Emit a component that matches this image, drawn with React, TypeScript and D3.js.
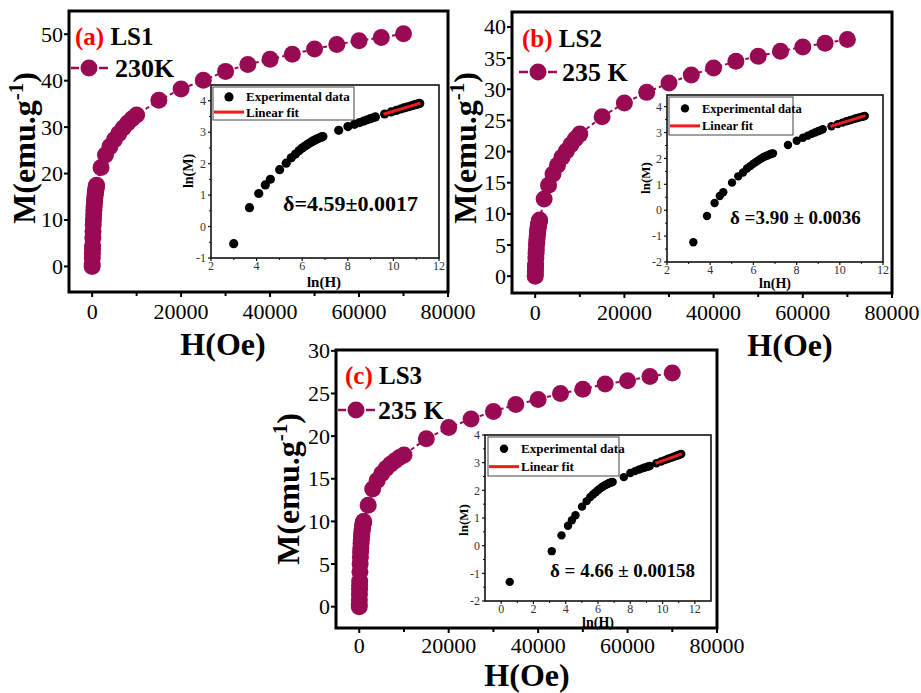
import React from "react";
import * as d3 from "d3";

// M(H) isotherms. H in Oe, M in emu/g
const H_LS1 = [0, 20, 40, 60, 80, 100, 150, 200, 250, 300, 350, 400, 450, 500, 550, 600, 650, 700, 750, 800, 850, 900, 950, 1000,
  2000, 3000, 4000, 5000, 6000, 7000, 8000, 9000, 10000,
  15000, 20000, 25000, 30000, 35000, 40000, 45000, 50000, 55000, 60000, 65000, 70000];
const M_LS1 = [0, 0.58, 1.82, 2.86, 3.75, 4.5, 6.1, 7.5, 8.9, 10.0, 11.1, 12.1, 12.8, 13.5, 14.1, 14.7, 15.2, 15.6, 16.0, 16.4, 16.7, 17.0, 17.3, 17.5,
  21.3, 24.0, 25.8, 27.3, 28.6, 29.8, 30.9, 31.8, 32.6,
  35.8, 38.2, 40.1, 42.0, 43.5, 44.6, 45.7, 46.8, 47.8, 48.6, 49.3, 50.1];

const H_LS2 = [0, 25, 47, 67, 85, 100, 150, 200, 250, 300, 350, 400, 450, 500, 550, 600, 650, 700, 750, 800, 850, 900, 950, 1000,
  2000, 3000, 4000, 5000, 6000, 7000, 8000, 9000, 10000,
  15000, 20000, 25000, 30000, 35000, 40000, 45000, 50000, 55000, 60000, 65000, 70000];
const M_LS2 = [0, 0.29, 0.8, 1.32, 1.73, 2.0, 2.9, 3.7, 4.3, 5.0, 5.5, 6.0, 6.4, 6.8, 7.2, 7.5, 7.8, 8.0, 8.2, 8.4, 8.6, 8.75, 8.9, 9.0,
  12.4, 14.6, 16.4, 17.8, 19.1, 20.1, 21.1, 22.0, 22.8,
  25.6, 27.8, 29.5, 31.0, 32.3, 33.4, 34.5, 35.3, 36.1, 36.8, 37.4, 38.0];

const H_LS3 = [0, 1.7, 23, 42, 63, 80, 100, 150, 200, 250, 300, 350, 400, 450, 500, 550, 600, 650, 700, 750, 800, 850, 900, 950, 1000,
  2000, 3000, 4000, 5000, 6000, 7000, 8000, 9000, 10000,
  15000, 20000, 25000, 30000, 35000, 40000, 45000, 50000, 55000, 60000, 65000, 70000];
const M_LS3 = [0, 0.27, 0.82, 1.45, 2.05, 2.5, 3.0, 4.1, 5.0, 5.8, 6.4, 6.9, 7.4, 7.8, 8.2, 8.5, 8.8, 9.0, 9.2, 9.4, 9.6, 9.75, 9.85, 9.95, 10.0,
  11.9, 13.8, 14.8, 15.6, 16.2, 16.7, 17.1, 17.5, 17.8,
  19.7, 21.0, 22.0, 22.9, 23.7, 24.3, 25.0, 25.5, 26.1, 26.5, 27.0, 27.4];

// linear fit is done on the high field points only
const FIT_FROM_H = 15000;

const X_TICKS = [0, 20000, 40000, 60000, 80000];
const X_MINOR = [10000, 30000, 50000, 70000];
const Y_TICKS_LS1 = [0, 10, 20, 30, 40, 50];
const Y_TICKS_LS2 = [0, 5, 10, 15, 20, 25, 30, 35, 40];
const Y_TICKS_LS3 = [0, 5, 10, 15, 20, 25, 30];

const INSET_X_TICKS_AB = [2, 4, 6, 8, 10, 12];
const INSET_X_TICKS_C = [0, 2, 4, 6, 8, 10, 12];
const INSET_Y_TICKS_A = [-1, 0, 1, 2, 3, 4];
const INSET_Y_TICKS_BC = [-2, -1, 0, 1, 2, 3, 4];

const MAIN_COLOR = "#990a55";
const FIT_COLOR = "#ee1c1c";
const FONT = "Liberation Serif, Times New Roman, serif";

type Box = { left: number; top: number; right: number; bottom: number };

type InsetProps = {
  box: Box;
  H: number[];
  M: number[];
  xDomain: [number, number];
  yDomain: [number, number];
  xTicks: number[];
  yTicks: number[];
  r: number;
  legend: Box;
  legendFont: number;
  delta: string;
  deltaX: number;
  deltaY: number;
  deltaSize: number;
  xLabel: [number, number];
  yLabel: [number, number];
  labelSize: number;
};

function Inset(p: InsetProps) {
  const { box } = p;
  const x = d3.scaleLinear().domain(p.xDomain).range([box.left, box.right]);
  const y = d3.scaleLinear().domain(p.yDomain).range([box.bottom, box.top]);

  const pts = p.H.map((h, i) => [h, p.M[i]]).filter((d) => d[0] > 0 && d[1] > 0)
    .map((d) => [Math.log(d[0]), Math.log(d[1])]);
  const fitPts = pts.filter((d) => d[0] >= Math.log(FIT_FROM_H) - 1e-6);
  const mx = d3.mean(fitPts, (d) => d[0]) as number;
  const my = d3.mean(fitPts, (d) => d[1]) as number;
  const slope = d3.sum(fitPts, (d) => (d[0] - mx) * (d[1] - my)) / d3.sum(fitPts, (d) => (d[0] - mx) ** 2);
  const x0 = (d3.min(fitPts, (d) => d[0]) as number) - 0.05;
  const x1 = (d3.max(fitPts, (d) => d[0]) as number) + 0.03;
  const fitLine = d3.line<number>().x((v) => x(v)).y((v) => y(my + slope * (v - mx)))([x0, x1]);

  const xMinor = p.xTicks.slice(0, -1).map((t) => t + 1).filter((t) => t < p.xDomain[1]);
  const yMinor = p.yTicks.slice(0, -1).map((t) => t + 0.5);
  const lg = p.legend;
  const row1 = lg.top + (lg.bottom - lg.top) * 0.3;
  const row2 = lg.top + (lg.bottom - lg.top) * 0.76;

  return (
    <g fontFamily={FONT}>
      <rect x={box.left} y={box.top} width={box.right - box.left} height={box.bottom - box.top}
        fill="white" stroke="#111" strokeWidth={1.6} />
      {p.xTicks.map((t) => (
        <g key={"xt" + t}>
          <line x1={x(t)} x2={x(t)} y1={box.bottom} y2={box.bottom + 3} stroke="#111" strokeWidth={1.2} />
          <text x={x(t)} y={box.bottom + 12} fontSize={12} textAnchor="middle" fill="#333">{t}</text>
        </g>
      ))}
      {xMinor.map((t) => (
        <line key={"xm" + t} x1={x(t)} x2={x(t)} y1={box.bottom} y2={box.bottom + 2} stroke="#111" strokeWidth={1} />
      ))}
      {p.yTicks.map((t) => (
        <g key={"yt" + t}>
          <line x1={box.left} x2={box.left - 3} y1={y(t)} y2={y(t)} stroke="#111" strokeWidth={1.2} />
          <text x={box.left - 5} y={y(t)} dy="0.35em" fontSize={12} textAnchor="end" fill="#333">{t}</text>
        </g>
      ))}
      {yMinor.map((t) => (
        <line key={"ym" + t} x1={box.left} x2={box.left - 2} y1={y(t)} y2={y(t)} stroke="#111" strokeWidth={1} />
      ))}
      <text x={p.xLabel[0]} y={p.xLabel[1]} textAnchor="middle" fontSize={p.labelSize} fontWeight="bold">ln(H)</text>
      <text transform={`translate(${p.yLabel[0]},${p.yLabel[1]}) rotate(-90)`} textAnchor="middle"
        fontSize={p.labelSize - 1} fontWeight="bold">ln(M)</text>

      {pts.map((d, i) => (
        <circle key={i} cx={x(d[0])} cy={y(d[1])} r={p.r} fill="black" />
      ))}
      <path d={fitLine || ""} stroke={FIT_COLOR} strokeWidth={3} fill="none" />

      <rect x={lg.left} y={lg.top} width={lg.right - lg.left} height={lg.bottom - lg.top}
        fill="white" stroke="#444" strokeWidth={1} />
      <circle cx={lg.left + 16} cy={row1} r={p.r} fill="black" />
      <text x={lg.left + 33} y={row1} dy="0.35em" fontSize={p.legendFont} fontWeight="bold">Experimental data</text>
      <line x1={lg.left + 1} x2={lg.left + 31} y1={row2} y2={row2} stroke={FIT_COLOR} strokeWidth={3} />
      <text x={lg.left + 33} y={row2} dy="0.35em" fontSize={p.legendFont} fontWeight="bold">Linear fit</text>

      <text x={p.deltaX} y={p.deltaY} fontSize={p.deltaSize} fontWeight="bold">{p.delta}</text>
    </g>
  );
}

type PanelProps = {
  box: Box;
  H: number[];
  M: number[];
  yDomain: [number, number];
  yTicks: number[];
  tickDy: number;
  tag: string;
  sample: string;
  temp: string;
  titleX: number;
  titleY: number;
  legY: number;
  legX: [number, number, number];
  tempX: number;
  yLabelPos: [number, number];
  xLabelPos: [number, number];
  inset: InsetProps;
};

function Panel(p: PanelProps) {
  const { box } = p;
  const x = d3.scaleLinear().domain([-5200, 80000]).range([box.left, box.right]);
  const y = d3.scaleLinear().domain(p.yDomain).range([box.bottom, box.top]);
  const pts = p.H.map((h, i) => [h, p.M[i]] as [number, number]);
  const path = d3.line<[number, number]>().x((d) => x(d[0])).y((d) => y(d[1]))(pts);

  return (
    <g fontFamily={FONT}>
      {X_TICKS.map((t) => (
        <g key={"x" + t}>
          <line x1={x(t)} x2={x(t)} y1={box.bottom} y2={box.bottom + 5} stroke="black" strokeWidth={2} />
          <text x={x(t)} y={box.bottom + p.tickDy} fontSize={22} textAnchor="middle">{t}</text>
        </g>
      ))}
      {X_MINOR.map((t) => (
        <line key={"xm" + t} x1={x(t)} x2={x(t)} y1={box.bottom} y2={box.bottom + 4} stroke="black" strokeWidth={2} />
      ))}
      {p.yTicks.map((t) => (
        <g key={"y" + t}>
          <line x1={box.left} x2={box.left - 5} y1={y(t)} y2={y(t)} stroke="black" strokeWidth={2} />
          <text x={box.left - 6} y={y(t)} dy="0.34em" fontSize={22} textAnchor="end">{t}</text>
        </g>
      ))}

      <path d={path || ""} fill="none" stroke={MAIN_COLOR} strokeWidth={2} strokeDasharray="4,3" />
      {pts.map((d, i) => (
        <circle key={i} cx={x(d[0])} cy={y(d[1])} r={8.5} fill={MAIN_COLOR} />
      ))}

      <Inset {...p.inset} />

      <rect x={box.left} y={box.top} width={box.right - box.left} height={box.bottom - box.top}
        fill="none" stroke="black" strokeWidth={3} />

      <text x={p.titleX} y={p.titleY} fontSize={25} fontWeight="bold">
        <tspan fill="#ff0000">{p.tag}</tspan>
        <tspan fill="black">{" " + p.sample}</tspan>
      </text>
      <line x1={p.legX[1] + 10} x2={p.legX[2]} y1={p.legY} y2={p.legY} stroke={MAIN_COLOR} strokeWidth={2.5} />
      <line x1={p.legX[0]} x2={p.legX[1] - 10} y1={p.legY} y2={p.legY} stroke={MAIN_COLOR} strokeWidth={2.5} />
      <circle cx={p.legX[1]} cy={p.legY} r={8.5} fill={MAIN_COLOR} />
      <text x={p.tempX} y={p.legY} dy="0.36em" fontSize={26} fontWeight="bold">{p.temp}</text>

      <text transform={`translate(${p.yLabelPos[0]},${p.yLabelPos[1]}) rotate(-90)`} textAnchor="middle"
        fontSize={32} fontWeight="bold">
        M(emu.g<tspan fontSize={21} dy={-12}>-1</tspan><tspan dy={12}>)</tspan>
      </text>
      <text x={p.xLabelPos[0]} y={p.xLabelPos[1]} textAnchor="middle" fontSize={32} fontWeight="bold">H(Oe)</text>
    </g>
  );
}

export default function App() {
  const panels: PanelProps[] = [
    {
      box: { left: 69, top: 11, right: 448, bottom: 292 },
      H: H_LS1, M: M_LS1, yDomain: [-5.5, 55], yTicks: Y_TICKS_LS1, tickDy: 27,
      tag: "(a)", sample: "LS1", temp: "230K",
      titleX: 75, titleY: 45, legY: 68, legX: [71, 89, 108], tempX: 115,
      yLabelPos: [35, 148], xLabelPos: [223, 355],
      inset: {
        box: { left: 211, top: 85, right: 439, bottom: 258 },
        H: H_LS1, M: M_LS1, xDomain: [2, 12], yDomain: [-1, 4.5],
        xTicks: INSET_X_TICKS_AB, yTicks: INSET_Y_TICKS_A, r: 4.6,
        legend: { left: 213, top: 87, right: 354, bottom: 120 }, legendFont: 13,
        delta: "δ=4.59±0.0017", deltaX: 283, deltaY: 211, deltaSize: 22,
        xLabel: [324, 287], yLabel: [193, 171], labelSize: 15,
      },
    },
    {
      box: { left: 512, top: 12, right: 892, bottom: 293 },
      H: H_LS2, M: M_LS2, yDomain: [-2.7, 42.4], yTicks: Y_TICKS_LS2, tickDy: 27,
      tag: "(b)", sample: "LS2", temp: "235 K",
      titleX: 522, titleY: 47, legY: 72, legX: [519, 538, 557], tempX: 562,
      yLabelPos: [476, 148], xLabelPos: [790, 356],
      inset: {
        box: { left: 667, top: 95, right: 883, bottom: 262 },
        H: H_LS2, M: M_LS2, xDomain: [2, 12], yDomain: [-2, 4.45],
        xTicks: INSET_X_TICKS_AB, yTicks: INSET_Y_TICKS_BC, r: 4.2,
        legend: { left: 669, top: 97, right: 793, bottom: 135 }, legendFont: 12.5,
        delta: "δ =3.90 ± 0.0036", deltaX: 730, deltaY: 224, deltaSize: 19,
        xLabel: [775, 288], yLabel: [650, 178], labelSize: 14,
      },
    },
    {
      box: { left: 336, top: 350, right: 717, bottom: 628 },
      H: H_LS3, M: M_LS3, yDomain: [-2.5, 30.1], yTicks: Y_TICKS_LS3, tickDy: 25,
      tag: "(c)", sample: "LS3", temp: "235 K",
      titleX: 345, titleY: 384, legY: 410, legX: [338, 356, 375], tempX: 378,
      yLabelPos: [299, 489], xLabelPos: [527, 686],
      inset: {
        box: { left: 485, top: 435, right: 711, bottom: 601 },
        H: H_LS3, M: M_LS3, xDomain: [-1, 13], yDomain: [-2, 4],
        xTicks: INSET_X_TICKS_C, yTicks: INSET_Y_TICKS_BC, r: 4.2,
        legend: { left: 488, top: 437, right: 619, bottom: 476 }, legendFont: 13,
        delta: "δ = 4.66 ± 0.00158", deltaX: 550, deltaY: 577, deltaSize: 19,
        xLabel: [598, 627], yLabel: [468, 520], labelSize: 14,
      },
    },
  ];

  return (
    <svg width={921} height={693} style={{ position: "absolute", left: 0, top: 0, background: "white" }}>
      <rect width={921} height={693} fill="white" />
      {panels.map((p) => (
        <Panel key={p.tag} {...p} />
      ))}
    </svg>
  );
}
